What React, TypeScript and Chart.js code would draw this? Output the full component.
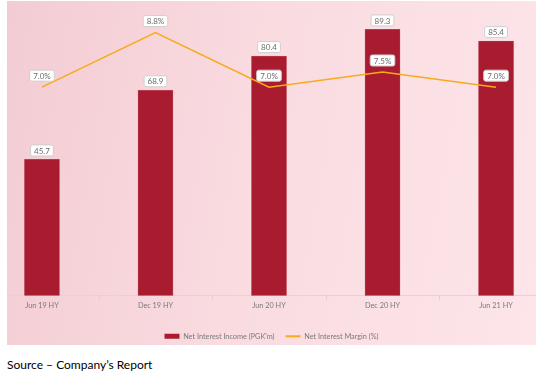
import React, { useEffect, useRef } from "react";
import { Chart, registerables } from "chart.js";

Chart.register(...registerables);

const categories = ["Jun 19 HY", "Dec 19 HY", "Jun 20 HY", "Dec 20 HY", "Jun 21 HY"];
const netInterestIncome = [45.7, 68.9, 80.4, 89.3, 85.4];
const netInterestMargin = [7.0, 8.8, 7.0, 7.5, 7.0];

const labelPlugin = {
  id: "valueBoxes",
  afterDatasetsDraw(chart: any) {
    const ctx = chart.ctx;
    ctx.save();
    ctx.font = "8px Lato";
    ctx.textAlign = "center";
    ctx.textBaseline = "middle";
    const drawBox = (cx: number, bottom: number, text: string) => {
      const w = ctx.measureText(text).width + 7;
      const h = 11;
      const x = cx - w / 2;
      const y = bottom - h;
      ctx.beginPath();
      ctx.roundRect(x, y, w, h, 2);
      ctx.fillStyle = "#ffffff";
      ctx.fill();
      ctx.lineWidth = 1;
      ctx.strokeStyle = "#cfcfcf";
      ctx.stroke();
      ctx.fillStyle = "#6b6b6b";
      ctx.fillText(text, cx, y + h / 2 + 0.5);
    };
    chart.getDatasetMeta(0).data.forEach((el: any, i: number) => {
      drawBox(el.x, el.y - 3.5, netInterestIncome[i].toFixed(1));
    });
    chart.getDatasetMeta(1).data.forEach((el: any, i: number) => {
      drawBox(el.x, el.y - 6, netInterestMargin[i].toFixed(1) + "%");
    });
    ctx.restore();
  },
};

const tickMarkPlugin = {
  id: "betweenTicks",
  afterDraw(chart: any) {
    const ctx = chart.ctx;
    const xs = chart.scales.x;
    const bottom = chart.chartArea.bottom;
    ctx.save();
    ctx.strokeStyle = "#d9d0d2";
    ctx.lineWidth = 1;
    for (let i = 0; i < categories.length - 1; i++) {
      const px = Math.round(xs.getPixelForValue(i + 0.5)) + 0.5;
      ctx.beginPath();
      ctx.moveTo(px, bottom);
      ctx.lineTo(px, bottom + 4);
      ctx.stroke();
    }
    ctx.restore();
  },
};

export default function App() {
  const ref = useRef<HTMLCanvasElement>(null);
  useEffect(() => {
    if (!ref.current) return;
    const chart = new Chart(ref.current, {
      type: "bar",
      data: {
        datasets: [
          {
            type: "bar",
            label: "Net Interest Income (PGK'm)",
            data: netInterestIncome.map((v, i) => ({ x: i, y: v })),
            backgroundColor: "#a91c2f",
            borderColor: "#c85a6a",
            borderWidth: 0.5,
            barThickness: 35,
            yAxisID: "y",
            order: 2,
          } as any,
          {
            type: "line",
            label: "Net Interest Margin (%)",
            data: netInterestMargin.map((v, i) => ({ x: i, y: v })),
            borderColor: "#f7ab1c",
            backgroundColor: "#f7ab1c",
            borderWidth: 1.5,
            pointRadius: 0,
            yAxisID: "y2",
            order: 1,
          } as any,
        ],
      },
      options: {
        animation: false,
        responsive: true,
        maintainAspectRatio: false,
        layout: { padding: { top: 4, left: 0, right: 0, bottom: -5 } },
        scales: {
          x: {
            type: "linear",
            offset: false,
            min: -0.308,
            max: 4.352,
            afterBuildTicks: (scale: any) => {
              scale.ticks = categories.map((_, i) => ({ value: i }));
            },
            afterFit: (scale: any) => {
              scale.height = 26;
            },
            ticks: {
              callback: (v: any) => categories[v] ?? "",
              font: { family: "Lato", size: 7.3 },
              color: "#7a7a7a",
              padding: 6,
              maxRotation: 0,
            },
            grid: { display: false, drawTicks: false },
            border: { display: true, color: "#dcd6d7", width: 1 },
          },
          y: { display: false, min: 0, max: 97.5 },
          y2: { display: false, min: 0.12, max: 9.71 },
        },
        plugins: {
          legend: {
            position: "bottom",
            labels: {
              usePointStyle: true,
              pointStyleWidth: 15,
              boxHeight: 5,
              padding: 11,
              font: { family: "Lato", size: 7.3 },
              color: "#7a7a7a",
              sort: (a: any, b: any) => a.datasetIndex - b.datasetIndex,
              generateLabels: (c: any) => {
                const items = Chart.defaults.plugins.legend.labels.generateLabels(c);
                items.forEach((it: any) => {
                  if (it.datasetIndex === 0) {
                    it.pointStyle = "rect";
                    it.lineWidth = 0;
                  } else {
                    it.pointStyle = "line";
                    it.lineWidth = 2;
                  }
                });
                return items;
              },
            },
          },
          tooltip: { enabled: false },
        },
      },
      plugins: [labelPlugin, tickMarkPlugin],
    });
    return () => chart.destroy();
  }, []);

  return (
    <div>
      <div
        style={{
          position: "absolute",
          left: 7,
          top: 1,
          width: 529,
          height: 344,
          background: "linear-gradient(100deg, #f3ccd3 0%, #f9dbe0 45%, #fde5e9 100%)",
        }}
      >
        <canvas ref={ref} />
      </div>
      <div
        style={{
          position: "absolute",
          left: 7,
          top: 357,
          fontFamily: "Lato, sans-serif",
          fontSize: 12,
          color: "#000",
        }}
      >
        Source – Company’s Report
      </div>
    </div>
  );
}
